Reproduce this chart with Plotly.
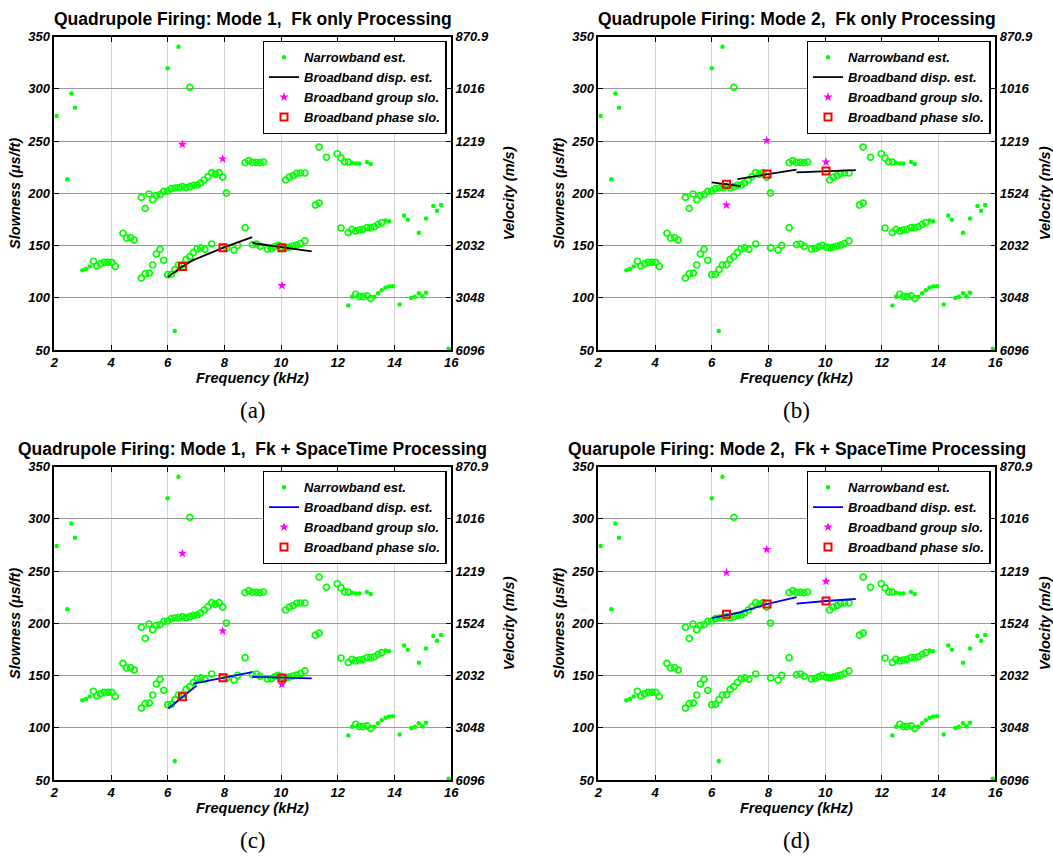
import plotly.graph_objects as go

# ---------------- data ----------------
# Narrowband estimates (shared by all four panels): small dots
nb_dot_f = [2.08, 2.46, 2.6, 2.73, 2.99, 3.12, 3.25, 6.0, 6.25, 6.38,
            12.37, 12.5, 13.29, 13.42, 13.55, 13.68, 13.81, 13.94,
            12.5, 12.63, 12.76, 13.03, 13.16, 13.68, 13.81,
            14.18, 14.34, 14.47, 14.59, 14.72, 14.86, 14.86, 14.98, 15.11, 15.11,
            15.37, 15.5, 15.64, 15.91]
nb_dot_s = [274, 213.5, 295.5, 282, 126.3, 127.5, 130, 319.7, 68.2, 340.4,
            92.5, 100.9, 101.1, 104.3, 107.2, 109.7, 110.7, 111,
            229.3, 228.6, 228.6, 229.9, 228, 174.1, 173.2,
            93.5, 178.9, 174.8, 99.9, 100.9, 104.3, 162.3, 101.4, 104.7, 176,
            187.9, 183.4, 188.8, 51.2]

# Narrowband estimates: open circles
nb_circ_f = [3.38, 3.5, 3.63, 3.76, 3.89, 4.02, 4.15,
             4.42, 4.55, 4.69, 4.82,
             5.07, 5.21, 5.35, 5.47, 5.6, 5.73, 5.86, 6.0, 6.13, 6.26, 6.38, 6.52, 6.65,
             6.78, 6.91, 7.04, 7.16, 7.31, 7.55, 8.08, 8.34, 8.47, 8.73, 8.99, 9.13,
             9.26, 9.52, 9.65, 9.78, 9.9, 10.04, 10.16, 10.29, 10.42, 10.55, 10.68, 10.84,
             5.07, 5.21, 5.34, 5.47, 5.6, 5.73, 5.86, 6.0, 6.13, 6.26, 6.39, 6.52, 6.65,
             6.78, 6.91, 7.04, 7.16, 7.29, 7.42, 7.55, 7.68, 7.81, 7.94, 8.07,
             6.78,
             8.73, 8.86, 8.99, 9.12, 9.25, 9.38,
             10.16, 10.29, 10.42, 10.55, 10.68, 10.84,
             11.21, 11.34, 11.34, 11.6,
             11.98, 12.11, 12.24, 12.37,
             12.11, 12.37, 12.5, 12.63, 12.76, 12.89, 13.03, 13.16, 13.29, 13.42, 13.55,
             12.63, 12.76, 12.89, 13.03, 13.16]
nb_circ_s = [135, 130.5, 132.5, 134, 134, 134, 130,
             161.7, 157.2, 157.6, 155.3,
             118.9, 123.1, 123.7, 131.4, 141.9, 146.4, 135.9, 122.1, 122.4, 127, 131.4, 131.7, 136.8,
             139.4, 143.5, 147, 147.7, 146.4, 151.5, 147.7, 145.7, 150.2, 167.1, 150.9, 151.5,
             149.3, 146.7, 147, 149, 150.2, 148.3, 147.7, 148.6, 149.6, 150.5, 151.8, 154.4,
             196.2, 185.6, 199.4, 193.9, 197.8, 198.7, 201.9, 202.2, 204.5, 205.1, 205.4, 206.4, 205.4,
             206.4, 207.7, 208, 209.9, 212.8, 216, 219.8, 218.2, 219.8, 215.6, 200.3,
             301.5,
             229.4, 231.3, 229.7, 229.7, 229.4, 230,
             212.8, 215.6, 216.9, 219.1, 219.5, 219.5,
             188.8, 190.7, 244.3, 234.5,
             237.9, 234, 230.2, 229.9,
             166.8, 162.6, 165.5, 164, 164.9, 165.5, 167.1, 167.1, 168, 170.3, 171.9,
             103.4, 101.1, 101.1, 101.8, 99.2]

# Broadband dispersion estimates (None separates segments)
bb_a_f = [6.0, 6.52, 6.95, None, 6.85, 7.96, 8.98, None, 8.98, 10.03, 11.08]
bb_a_s = [120, 130, 137, None, 135.5, 148, 158, None, 152.5, 148.2, 144.4]
bb_b_f = [6.0, 6.52, 7.02, None, 6.91, 7.94, 8.99, None, 8.99, 10.02, 11.08]
bb_b_s = [210.5, 208.6, 207, None, 213.7, 218.5, 222.7, None, 220.1, 221.4, 222.3]
bb_c_f = [6.02, 6.52, 7.02, None, 6.9, 7.96, 8.98, None, 8.98, 10.03, 11.08]
bb_c_s = [118.4, 129.8, 140.4, None, 142.3, 148, 153.4, None, 148.7, 148, 147.3]
bb_d_f = [6.0, 6.52, 7.0, 7.94, 8.99, None, 8.99, 10.02, 11.08]
bb_d_s = [205.1, 208.2, 210.5, 218.5, 225.2, None, 218.8, 221.4, 223.3]

# Broadband group slowness
grp_f = [6.52, 7.94, 10.03]
grp_a_s = [246.9, 232.9, 111.7]
grp_b_s = [188.8, 250.7, 230]
grp_c_s = [267, 192.7, 141.6]
grp_d_s = [248.8, 270.8, 240.2]

# Broadband phase slowness
ph_f = [6.52, 7.95, 10.03]
ph_a_s = [130, 148, 148]
ph_b_s = [208.6, 218.5, 221.4]
ph_c_s = [129.8, 148, 147.7]
ph_d_s = [208.6, 218.5, 221.4]

titles = ["Quadrupole Firing: Mode 1,  Fk only Processing",
          "Quadrupole Firing: Mode 2,  Fk only Processing",
          "Quadrupole Firing: Mode 1,  Fk + SpaceTime Processing",
          "Quarupole Firing: Mode 2,  Fk + SpaceTime Processing"]
captions = ["(a)", "(b)", "(c)", "(d)"]

x_ticks = [2, 4, 6, 8, 10, 12, 14, 16]
slow_ticks = [50, 100, 150, 200, 250, 300, 350]
vel_labels = ["6096", "3048", "2032", "1524", "1219", "1016", "870.9"]

# ---------------- layout helpers ----------------
W, H = 1053, 865
SANS = "Liberation Sans, Arial, sans-serif"
GREEN = "#00FF00"

panels = [
    dict(bb_f=bb_a_f, bb_s=bb_a_s, grp=grp_a_s, ph=ph_a_s, col="black", px=(54.3, 451.2), py=(36.7, 350), vs=16),
    dict(bb_f=bb_b_f, bb_s=bb_b_s, grp=grp_b_s, ph=ph_b_s, col="black", px=(598.3, 995.3), py=(36.7, 350), vs=11),
    dict(bb_f=bb_c_f, bb_s=bb_c_s, grp=grp_c_s, ph=ph_c_s, col="#0000FF", px=(54.3, 451.2), py=(466.7, 780), vs=16),
    dict(bb_f=bb_d_f, bb_s=bb_d_s, grp=grp_d_s, ph=ph_d_s, col="#0000FF", px=(598.3, 995.3), py=(466.7, 780), vs=11),
]

fig = go.Figure()
tickf = dict(family=SANS, size=13, color="black", weight="bold", style="italic")
titf = dict(family=SANS, size=14.5, color="black", weight="bold", style="italic")
legf = dict(family=SANS, size=13, color="black", weight="bold", style="italic")
annotations = []

for k, p in enumerate(panels, start=1):
    xa = "x" if k == 1 else f"x{k}"
    ya = "y" if k == 1 else f"y{k}"
    lg = "legend" if k == 1 else f"legend{k}"
    common = dict(xaxis=xa, yaxis=ya, legend=lg)
    fig.add_trace(go.Scatter(x=nb_circ_f, y=nb_circ_s, mode="markers", showlegend=False,
                             marker=dict(symbol="circle-open", size=6, color=GREEN,
                                         line=dict(width=1.7, color=GREEN)), **common))
    fig.add_trace(go.Scatter(x=nb_dot_f, y=nb_dot_s, mode="markers", name="Narrowband est.",
                             marker=dict(symbol="circle", size=4.5, color=GREEN), **common))
    fig.add_trace(go.Scatter(x=p["bb_f"], y=p["bb_s"], mode="lines", name="Broadband disp. est.",
                             line=dict(color=p["col"], width=1.8), connectgaps=False, **common))
    fig.add_trace(go.Scatter(x=grp_f, y=p["grp"], mode="markers", name="Broadband group slo.",
                             marker=dict(symbol="star", size=7, color="#FF00FF"), **common))
    fig.add_trace(go.Scatter(x=ph_f, y=p["ph"], mode="markers", name="Broadband phase slo.",
                             marker=dict(symbol="square-open", size=7, color="#FF0000",
                                         line=dict(width=2, color="#FF0000")), **common))

    xd = [p["px"][0] / W, p["px"][1] / W]
    yd = [1 - p["py"][1] / H, 1 - p["py"][0] / H]
    ax_x = dict(domain=xd, range=[2, 16], tickvals=x_ticks, anchor=ya, showgrid=True, automargin=False,
                gridcolor="#d4d4d4", gridwidth=1, zeroline=False, ticks="inside", ticklen=5,
                tickcolor="black", showline=True, linecolor="black", linewidth=1.6, mirror="ticks",
                tickfont=tickf)
    ax_y = dict(domain=yd, range=[50, 350], tickvals=slow_ticks, anchor=xa, showgrid=True, automargin=False,
                gridcolor="#9a9a9a", gridwidth=1, zeroline=False, ticks="inside", ticklen=5,
                tickcolor="black", showline=True, linecolor="black", linewidth=1.6,
                tickfont=tickf, title=dict(text="Slowness (μs/ft)", font=titf, standoff=3))
    ax_y2 = dict(overlaying=ya, side="right", anchor=xa, range=[50, 350], tickvals=slow_ticks,
                 ticktext=vel_labels, showgrid=False, zeroline=False, ticks="inside", ticklen=5,
                 automargin=False, tickcolor="black", showline=True, linecolor="black", linewidth=1.6,
                 tickfont=tickf, title=dict(text="Velocity (m/s)", font=titf, standoff=p["vs"]))
    xkey = "xaxis" if k == 1 else f"xaxis{k}"
    ykey = "yaxis" if k == 1 else f"yaxis{k}"
    fig.update_layout({xkey: ax_x, ykey: ax_y, f"yaxis{k + 4}": ax_y2})

    # empty trace so the right-hand velocity axis is attached to the subplot
    fig.add_trace(go.Scatter(x=[None], y=[None], xaxis=xa, yaxis=f"y{k + 4}",
                             showlegend=False, hoverinfo="skip"))

    legx = (p["px"][0] + 208.4) / W
    fig.update_layout({lg: dict(x=legx, y=1 - (p["py"][0] + 4.3) / H, xanchor="left", yanchor="top",
                                bgcolor="white", bordercolor="black", borderwidth=1.3,
                                font=legf, tracegroupgap=0, itemwidth=30)})

    cx = (p["px"][0] + p["px"][1]) / 2 / W
    annotations.append(dict(text=titles[k - 1], x=cx, y=1 - (p["py"][0] - 18) / H, xref="paper",
                            yref="paper", xanchor="center", yanchor="middle", showarrow=False,
                            font=dict(family=SANS, size=17.5, color="black", weight="bold")))
    annotations.append(dict(text="Frequency (kHz)", x=cx, y=1 - (p["py"][1] + 18) / H, xref="paper",
                            yref="paper", xanchor="center", yanchor="top", showarrow=False,
                            font=titf))
    annotations.append(dict(text=captions[k - 1], x=cx, y=1 - (p["py"][1] + 60) / H, xref="paper",
                            yref="paper", xanchor="center", yanchor="middle", showarrow=False,
                            font=dict(family="Liberation Serif, Times New Roman, serif", size=23,
                                      color="black")))

fig.update_layout(width=W, height=H, margin=dict(l=0, r=0, t=0, b=0),
                  paper_bgcolor="white", plot_bgcolor="white", annotations=annotations,
                  font=dict(family=SANS, color="black"))

# remove the browser's default 8px body margin so the figure fills the window exactly
fig.write_html("out.html", config={"displayModeBar": False},
               post_script="document.body.style.margin='0';document.body.style.overflow='hidden';")
